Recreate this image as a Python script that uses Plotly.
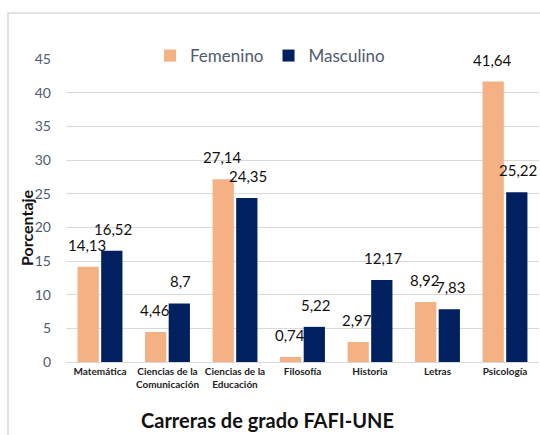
import plotly.graph_objects as go

carreras = ["Matemática", "Ciencias de la<br>Comunicación", "Ciencias de la<br>Educación",
            "Filosofía", "Historia", "Letras", "Psicología"]
femenino = [14.13, 4.46, 27.14, 0.74, 2.97, 8.92, 41.64]
masculino = [16.52, 8.7, 24.35, 5.22, 12.17, 7.83, 25.22]

FONT = "Lato, 'Open Sans', sans-serif"
AXIS_GRAY = "#4F5B70"


def fmt(v):
    return f"{v:g}".replace(".", ",")


fig = go.Figure()
fig.add_trace(go.Bar(x=carreras, y=femenino, name="Femenino",
                     marker=dict(color="#F4B183", line=dict(width=0))))
fig.add_trace(go.Bar(x=carreras, y=masculino, name="Masculino",
                     marker=dict(color="#002060", line=dict(width=0))))

# data labels above each bar
for vals, shift in [(femenino, -13), (masculino, 13)]:
    for c, v in zip(carreras, vals):
        fig.add_annotation(x=c, y=v, text=fmt(v), showarrow=False,
                           xshift=shift, yshift=22, yanchor="middle",
                           font=dict(family=FONT, size=15, color="#111111"))

fig.add_annotation(text="<b>Carreras de grado FAFI-UNE</b>", xref="paper", yref="paper",
                   x=(267 - 66) / 473, y=-(420 - 362) / 303, showarrow=False,
                   yanchor="middle", font=dict(family=FONT, size=20, color="#111111"))
fig.add_annotation(text="<b>Porcentaje</b>", xref="paper", yref="paper",
                   x=-(66 - 26) / 473, y=(362 - 228) / 303, showarrow=False,
                   textangle=-90, xanchor="center", yanchor="middle",
                   font=dict(family=FONT, size=16, color="#111111"))

# chart area border
fig.add_shape(type="rect", xref="paper", yref="paper",
              x0=-(66 - 8) / 473, x1=1.2, y0=-0.5, y1=1 + (59 - 13) / 303,
              line=dict(color="#D9D9D9", width=1.5), layer="below")

fig.update_layout(
    width=540, height=435,
    margin=dict(l=66, r=1, t=59, b=73),
    paper_bgcolor="white", plot_bgcolor="white",
    barmode="group", bargap=0.3, bargroupgap=0.1,
    font=dict(family=FONT),
    showlegend=True,
    legend=dict(orientation="h", x=(270 - 66) / 473, xanchor="center",
                y=1 + (59 - 38) / 303, yanchor="top",
                font=dict(family=FONT, size=17, color=AXIS_GRAY),
                itemwidth=30, bgcolor="rgba(0,0,0,0)"),
    xaxis=dict(showgrid=False, showline=True, linecolor="#D9D9D9", linewidth=1,
               tickfont=dict(family=FONT, size=10, color="#222222"),
               tickprefix="<b>", ticksuffix="</b>", ticks=""),
    yaxis=dict(range=[0, 45], dtick=5, showgrid=True, gridcolor="#D9D9D9", gridwidth=1,
               zeroline=False, showline=False, ticks="",
               tickfont=dict(family=FONT, size=14, color=AXIS_GRAY),
               ticklabelstandoff=14),
)

fig.write_html("out.html", config={"displayModeBar": False},
               post_script="document.body.style.margin='0';")
